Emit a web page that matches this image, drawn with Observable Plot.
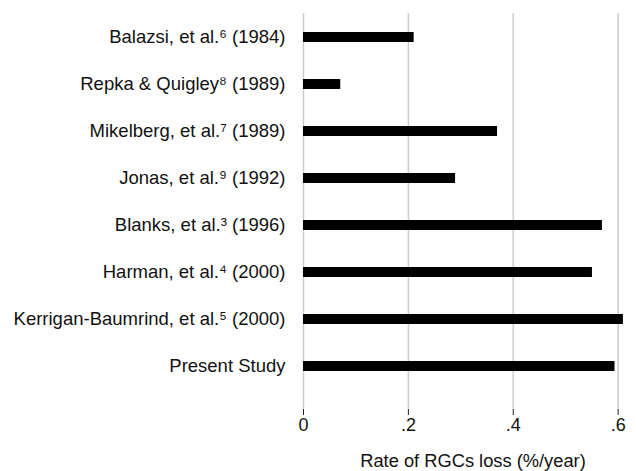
<!DOCTYPE html>
<html>
<head>
<meta charset="utf-8">
<script src="https://cdn.jsdelivr.net/npm/d3@7"></script>
<script src="https://cdn.jsdelivr.net/npm/@observablehq/plot@0.6"></script>
<style>
  html, body { margin: 0; padding: 0; background: #fff; }
  #chart svg { display: block; }
</style>
</head>
<body>
<div id="chart"></div>
<script>
const studies = [
  "Balazsi, et al.\u2076 (1984)",
  "Repka & Quigley\u2078 (1989)",
  "Mikelberg, et al.\u2077 (1989)",
  "Jonas, et al.\u2079 (1992)",
  "Blanks, et al.\u00B3 (1996)",
  "Harman, et al.\u2074 (2000)",
  "Kerrigan-Baumrind, et al.\u2075 (2000)",
  "Present Study"
];
const rates = [0.211, 0.071, 0.370, 0.290, 0.570, 0.551, 0.610, 0.594];
const xTicks = [0, 0.2, 0.4, 0.6];
const xTickLabels = ["0", ".2", ".4", ".6"];
const xLabel = "Rate of RGCs loss (%/year)";

const data = studies.map((s, i) => ({study: s, rate: rates[i]}));

const chart = Plot.plot({
  width: 636,
  height: 471,
  marginTop: 13,
  marginBottom: 62,
  marginLeft: 303,
  marginRight: 0,
  style: {fontFamily: "'Liberation Sans', Arial, sans-serif", color: "#111", background: "#fff"},
  x: {domain: [0, 0.635]},
  y: {domain: studies, paddingInner: 0.78, paddingOuter: 0.39, insetBottom: 18},
  marks: [
    Plot.ruleX(xTicks, {stroke: "#cccccc", strokeWidth: 1.5}),
    Plot.barX(data, {x: "rate", y: "study", fill: "#000"}),
    Plot.axisY({tickSize: 0, tickPadding: 18, fontSize: 18.5, label: null}),
    Plot.axisX({
      ticks: xTicks,
      tickFormat: (d) => xTickLabels[xTicks.indexOf(d)],
      tickSize: 6,
      tickPadding: 3,
      fontSize: 18,
      line: true,
      stroke: "#222",
      label: null
    }),
    Plot.text([xLabel], {text: (d) => d, frameAnchor: "bottom", dx: 3, dy: 57, fontSize: 18.3, fill: "#111"})
  ]
});
document.getElementById("chart").appendChild(chart);
</script>
</body>
</html>
